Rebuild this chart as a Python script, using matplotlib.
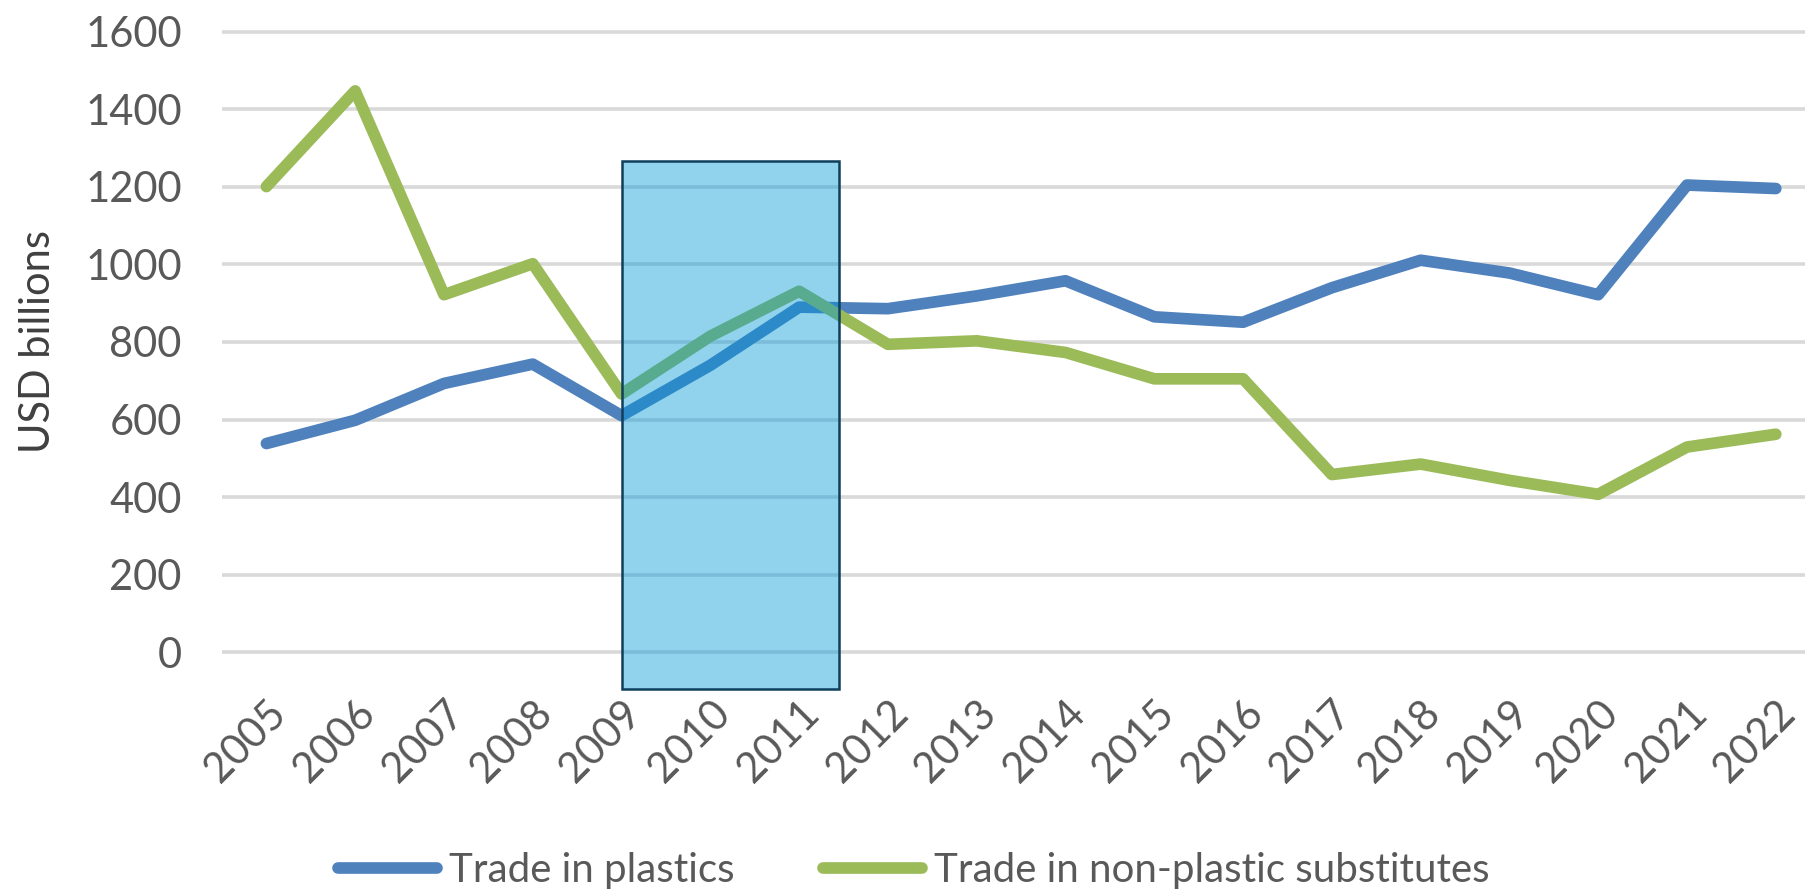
import matplotlib
matplotlib.use("Agg")
import matplotlib.pyplot as plt
from matplotlib.patches import Rectangle

plt.rcParams['font.family'] = ['Lato', 'DejaVu Sans']

# Trade values, USD billions
years = ["2005", "2006", "2007", "2008", "2009", "2010", "2011", "2012", "2013",
         "2014", "2015", "2016", "2017", "2018", "2019", "2020", "2021", "2022"]
plastics = [538, 598, 693, 743, 610, 740, 890, 886, 919,
            958, 865, 851, 940, 1011, 978, 922, 1205, 1196]
substitutes = [1201, 1448, 922, 1002, 666, 815, 931, 794, 803,
               773, 705, 705, 458, 485, 443, 407, 529, 562]
y_ticks = [0, 200, 400, 600, 800, 1000, 1200, 1400, 1600]

# period picked out with a shaded box
highlight = ["2009", "2011"]

BLUE = "#4F81BD"
GREEN = "#9BBB59"
TEXT = "#595959"
LW = 8.4


def draw_chart(out_file: str) -> None:
    fig = plt.figure(figsize=(18.06, 8.89), dpi=100)
    left = 222 / 1806
    ax = fig.add_axes([left, 0.2622, 1 - left, 0.7062])

    x = list(range(len(years)))
    ax.plot(x, plastics, color=BLUE, lw=LW, solid_capstyle="round",
            solid_joinstyle="round", label="Trade in plastics", zorder=2)
    ax.plot(x, substitutes, color=GREEN, lw=LW, solid_capstyle="round",
            solid_joinstyle="round", label="Trade in non-plastic substitutes", zorder=2)

    # translucent box over the highlighted years, spilling past the axis
    x0 = years.index(highlight[0])
    x1 = years.index(highlight[1]) + 0.45
    ax.add_patch(Rectangle((x0, -95), x1 - x0, 1267 + 95, facecolor="#0098D7",
                           alpha=0.43, edgecolor="none", zorder=3, clip_on=False))
    ax.add_patch(Rectangle((x0, -95), x1 - x0, 1267 + 95, facecolor="none",
                           edgecolor="#0E3F5C", lw=1.8, zorder=4, clip_on=False))

    ax.set_xlim(-0.5, 17.34)
    ax.set_ylim(-10, 1610)
    ax.set_yticks(y_ticks)
    ax.set_yticklabels([str(v) for v in y_ticks])
    ax.set_xticks(x)
    ax.set_xticklabels(years)

    ax.grid(axis="y", color="#D9D9D9", lw=2.6, zorder=0)
    ax.set_axisbelow(True)
    for side in ax.spines.values():
        side.set_visible(False)

    ax.tick_params(axis="y", length=0, pad=29, labelsize=30, labelcolor=TEXT)
    ax.tick_params(axis="x", length=0, pad=27, labelsize=30, labelcolor=TEXT)
    for lbl in ax.get_xticklabels():
        lbl.set_rotation(45)
        lbl.set_rotation_mode("anchor")
        lbl.set_ha("right")
        lbl.set_va("top")

    ax.set_ylabel("USD billions", fontsize=30, color="#404040", va="center")
    ax.yaxis.set_label_coords(-(222 - 38) / (1806 - 222), 0.5)

    fig.legend(loc="center", bbox_to_anchor=(0.506, 0.021), ncol=2, frameon=False,
               fontsize=29, labelcolor=TEXT, handlelength=2.45, handletextpad=0.3,
               columnspacing=2.2)

    fig.savefig(out_file, dpi=100)


def main() -> int:
    draw_chart("out.png")
    return 0


if __name__ == "__main__":
    main()
